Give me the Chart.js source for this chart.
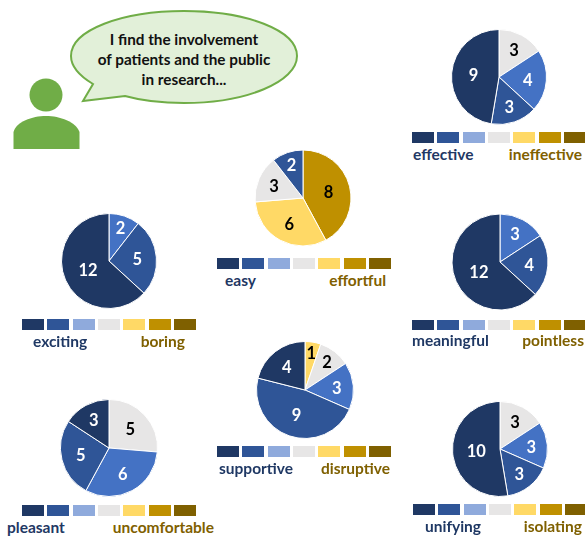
<!DOCTYPE html>
<html><head><meta charset="utf-8">
<script src="https://cdn.jsdelivr.net/npm/chart.js@4"></script>
<style>
html,body{margin:0;padding:0;background:#fff;width:585px;height:536px;overflow:hidden;font-family:Lato,sans-serif}
.a{position:absolute}
.lab{position:absolute;font:700 15.5px Lato,sans-serif;white-space:nowrap;line-height:18px}
#q{position:absolute;left:74px;top:29px;width:220px;text-align:center;font:700 15.3px/20px Lato,sans-serif;color:#111}
</style></head><body>
<svg class="a" style="left:0;top:0" width="585" height="536">
<path d="M83 101 L93 84 C78 75 71 66 71 56 C71 30 122 11 184 11 C246 11 297 30 297 56 C297 82 246 103 184 103 C163 103 143 101 125 96 Z" fill="#E2F0D9" stroke="#70AD47" stroke-width="2"/>
<circle cx="46" cy="95" r="16.5" fill="#70AD47"/>
<path d="M13.500 149 L13.500 132 C16 122 32 116 46 116 C60 116 76 122 79.500 132 L79.500 149 Z" fill="#70AD47"/>
</svg>
<div id="q">I find the involvement<br>of patients and the public<br>in research...</div>
<script>
const NAVY='#1F3864',BLUE='#2F5597',MID='#4472C4',GREY='#E7E6E6',YEL='#FFD966',GOLD='#BF9000',BRN='#7F6000',PALE='#8FAADC';
const scaleColors=[NAVY,BLUE,PALE,GREY,YEL,GOLD,BRN];

const effectiveValues=[3,4,3,9];
const effectiveColors=[GREY,MID,BLUE,NAVY];
const easyValues=[8,6,3,2];
const easyColors=[GOLD,YEL,GREY,BLUE];
const excitingValues=[2,5,12];
const excitingColors=[MID,BLUE,NAVY];
const meaningfulValues=[3,4,12];
const meaningfulColors=[MID,BLUE,NAVY];
const pleasantValues=[5,6,5,3];
const pleasantColors=[GREY,MID,BLUE,NAVY];
const supportiveValues=[1,2,3,9,4];
const supportiveColors=[YEL,GREY,MID,BLUE,NAVY];
const unifyingValues=[3,3,3,10];
const unifyingColors=[GREY,MID,BLUE,NAVY];

const darkText=new Set([GREY,YEL,GOLD]);
// how far out along the slice radius a count label sits, looked up by the slice's count
const labelReach={1:.78,2:.74,3:.66,4:.61,5:.6,6:.6,8:.55,9:.54,10:.5,12:.48};
const sliceLabels={id:'sliceLabels',afterDatasetsDraw(c){
  const x=c.ctx,ds=c.data.datasets[0];
  c.getDatasetMeta(0).data.forEach((a,i)=>{
    const mid=(a.startAngle+a.endAngle)/2,f=labelReach[ds.data[i]]*a.outerRadius;
    x.save();
    x.font='700 16.5px Lato,sans-serif';
    x.textAlign='center';x.textBaseline='middle';
    x.fillStyle=darkText.has(ds.backgroundColor[i])?'#000':'#fff';
    x.fillText(String(ds.data[i]),a.x+Math.cos(mid)*f,a.y+Math.sin(mid)*f+1);
    x.restore();
  });
}};
function pie(cx,cy,r,values,colors){
  const s=2*Math.ceil(r)+8,cv=document.createElement('canvas');
  cv.className='a';cv.style.left=(cx-s/2)+'px';cv.style.top=(cy-s/2)+'px';
  cv.width=s;cv.height=s;cv.style.width=s+'px';cv.style.height=s+'px';
  document.body.appendChild(cv);
  new Chart(cv,{type:'pie',data:{labels:values.map(String),datasets:[{data:values,backgroundColor:colors,borderColor:'#fff',borderWidth:1,radius:r}]},
    options:{responsive:false,animation:false,layout:{padding:0},plugins:{legend:{display:false},tooltip:{enabled:false}}},plugins:[sliceLabels]});
}
function scale(x0,y,left,leftX,right,rightEnd,labY){
  scaleColors.forEach((c,i)=>{
    const d=document.createElement('div');d.className='a';
    d.style.cssText+=`left:${x0+i*25.3}px;top:${y}px;width:22px;height:10.5px;background:${c}`;
    document.body.appendChild(d);
  });
  const l=document.createElement('div');l.className='lab';l.textContent=left;l.style.left=leftX+'px';l.style.top=labY+'px';l.style.color=NAVY;document.body.appendChild(l);
  const m=document.createElement('div');m.className='lab';m.textContent=right;m.style.right=(585-rightEnd)+'px';m.style.top=labY+'px';m.style.color=BRN;document.body.appendChild(m);
}
pie(499,77,47.5,effectiveValues,effectiveColors);
pie(303,198,48,easyValues,easyColors);
pie(108.5,261,47.5,excitingValues,excitingColors);
pie(499.5,262,48,meaningfulValues,meaningfulColors);
pie(108.5,448,48.5,pleasantValues,pleasantColors);
pie(304.500,390,48.5,supportiveValues,supportiveColors);
pie(500,449,47.5,unifyingValues,unifyingColors);
scale(412,132,'effective',413,'ineffective',582,145);
scale(217,258,'easy',225,'effortful',386,271);
scale(22,319,'exciting',33,'boring',185,332);
scale(412,319.5,'meaningful',412,'pointless',584,331);
scale(22,505,'pleasant',7,'uncomfortable',214,518);
scale(217,446,'supportive',219,'disruptive',390,459);
scale(413,504,'unifying',425,'isolating',582,517);
</script>
</body></html>
